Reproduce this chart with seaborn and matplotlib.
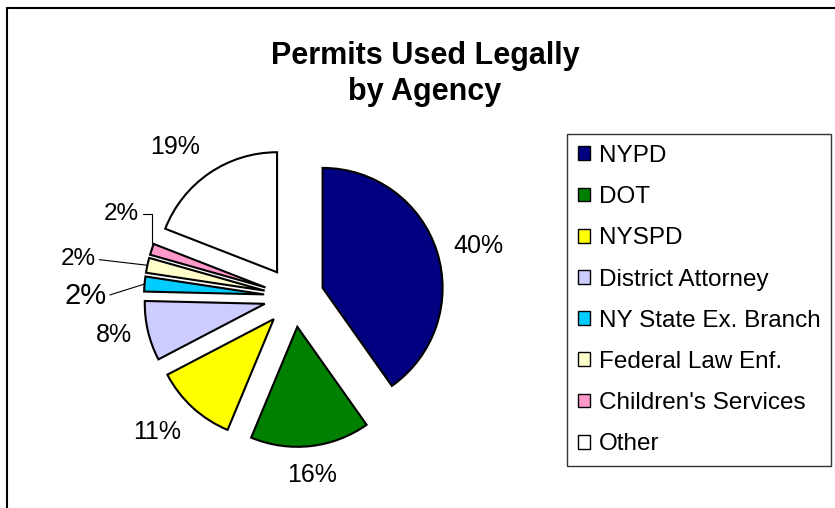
import numpy as np
import matplotlib
matplotlib.use("Agg")
import matplotlib.pyplot as plt
import seaborn as sns
from matplotlib.patches import Rectangle

sns.set_theme(style="white")
plt.rcParams['font.family'] = ['Liberation Sans', 'DejaVu Sans']
plt.rcParams['text.color'] = 'black'

# ---- data ----
agencies = ["NYPD", "DOT", "NYSPD", "District Attorney", "NY State Ex. Branch",
            "Federal Law Enf.", "Children's Services", "Other"]
shares = [40, 16, 11, 8, 2, 2, 1.5, 19]
colors = ["#000080", "#008000", "#FFFF00", "#CCCCFF", "#00CCFF",
          "#FFFFCC", "#FF99CC", "#FFFFFF"]
title = "Permits Used Legally\nby Agency"

W, H = 835, 508
fig = plt.figure(figsize=(W / 100, H / 100), dpi=100)
ax = fig.add_axes([0, 0, 1, 1])

cx, cy, R = 294, H - 297, 120
wedges, _ = ax.pie(shares, colors=colors, startangle=90, counterclock=False,
                   explode=[0.25 * R] * len(shares), center=(cx, cy), radius=R,
                   wedgeprops=dict(edgecolor="black", linewidth=1.5))
ax.set_xlim(0, W)
ax.set_ylim(0, H)
ax.set_aspect("equal")
ax.axis("off")

total = float(sum(shares))
pcts = [f"{round(100 * v / total):d}%" for v in shares]

# main labels placed outside each slice
small = {4, 5, 6}
for i, w in enumerate(wedges):
    ang = np.deg2rad((w.theta1 + w.theta2) / 2)
    c, s = np.cos(ang), np.sin(ang)
    wx, wy = w.center
    if i not in small:
        k = 1.14
        ha = "left" if c > 0.3 else ("right" if c < -0.3 else "center")
        va = "bottom" if s > 0.5 else ("top" if s < -0.5 else "center")
        ax.text(wx + k * R * c, wy + k * R * s, pcts[i], ha=ha, va=va,
                fontsize=18, color="black")

# small slice labels with leader lines
offsets = {4: (-59, -12, 21, "arc3"), 5: (-69, 6, 17.5, "arc3"),
           6: (-30, 35, 17.5, "angle,angleA=0,angleB=90,rad=0")}
for i, (dx, dy, fs, cs) in offsets.items():
    w = wedges[i]
    ang = np.deg2rad((w.theta1 + w.theta2) / 2)
    wx, wy = w.center
    px, py = wx + R * np.cos(ang), wy + R * np.sin(ang)
    ax.annotate(pcts[i], xy=(px, py), xytext=(dx, dy), textcoords="offset pixels",
                ha="center", va="center", fontsize=fs, color="black",
                arrowprops=dict(arrowstyle="-", color="black", lw=0.8,
                                connectionstyle=cs, relpos=(1, 0.5),
                                shrinkA=0, shrinkB=0))

fig.text(425 / W, 1 - 74 / H, title, ha="center", va="center", fontsize=22,
         fontweight="bold", linespacing=1.22, color="black")

leg = ax.legend(wedges, agencies, loc="upper left",
                bbox_to_anchor=(567 / W, 1 - 134 / H), bbox_transform=fig.transFigure,
                fontsize=17.5, frameon=True, fancybox=False, shadow=False,
                handlelength=0.5, handleheight=0.5, handletextpad=0.35,
                labelspacing=0.79, borderpad=0.45, borderaxespad=0)
leg.get_frame().set_edgecolor("black")
leg.get_frame().set_linewidth(1.0)
leg.get_frame().set_facecolor("white")
for h in leg.legend_handles:
    h.set_linewidth(1.0)
for t in leg.get_texts():
    t.set_color("black")

fig.patches.append(Rectangle((7 / W, -0.1), 1.2, 1.1 - 8 / H, transform=fig.transFigure,
                             fill=False, edgecolor="black", linewidth=1.5))

fig.savefig("out.png", dpi=100)
